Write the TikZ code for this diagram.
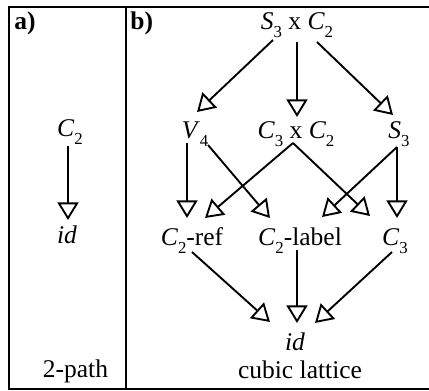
\documentclass[tikz,border=0pt]{standalone}
\usepackage{fontspec}
\setmainfont{Liberation Serif}
\usetikzlibrary{arrows.meta,calc}
\newcommand{\mysub}[1]{\raisebox{-0.33em}{\fontsize{8.4pt}{9pt}\selectfont #1}}
\tikzset{
  lbl/.style={inner sep=0pt, anchor=base, font=\fontsize{12.75pt}{15pt}\selectfont},
  arr/.style={line width=0.95pt, -{Triangle[open, width=10.5pt, length=8.8pt]}},
  frame/.style={line width=0.9pt}
}
\begin{document}
\begin{tikzpicture}[x=0.5pt, y=-0.5pt]
\useasboundingbox (0,0) rectangle (429,391);
% frame
\draw[frame] (429,7) -- (9,7) -- (9,389) -- (429,389);
\draw[frame] (126,7) -- (126,389);
% panel labels
\node[lbl, anchor=base west, font=\fontsize{12.75pt}{15pt}\selectfont\bfseries] (pa) at (14,30) {a)};
\node[lbl, anchor=base west, font=\fontsize{12.75pt}{15pt}\selectfont\bfseries] (pb) at (130,30) {b)};
% panel a
\node[lbl] (aC) at (70,136) {\textit{C}\mysub{2}};
\node[lbl] (aid) at (67,243) {\textit{id}};
\node[lbl] (apath) at (75.5,377) {2-path};
\draw[arr] ($(aC.base)+(-2,10)$) -- ($(aid.base)+(1,-23)$);
% panel b
\node[lbl] (top) at (297,29) {\textit{S}\mysub{3} x \textit{C}\mysub{2}};
\node[lbl] (V4) at (195,138) {\textit{V}\mysub{4}};
\node[lbl] (C3C2) at (296,138) {\textit{C}\mysub{3} x \textit{C}\mysub{2}};
\node[lbl] (S3) at (399,138) {\textit{S}\mysub{3}};
\node[lbl] (C2ref) at (192,245) {\textit{C}\mysub{2}-ref};
\node[lbl] (C2label) at (300,245) {\textit{C}\mysub{2}-label};
\node[lbl] (C3) at (395,245) {\textit{C}\mysub{3}};
\node[lbl] (id) at (295,350) {\textit{id}};
\node[lbl] (cubic) at (300,378) {cubic lattice};
\draw[arr] ($(top.base)+(-24,11)$) -- ($(V4.base)+(2,-26)$);
\draw[arr] ($(top.base)+(0,13)$) -- ($(C3C2.base)+(1,-21)$);
\draw[arr] ($(top.base)+(20,13)$) -- ($(S3.base)+(-6,-23)$);
\draw[arr] ($(V4.base)+(-8,5)$) -- ($(C2ref.base)+(-5,-27)$);
\draw[arr] ($(V4.base)+(13,7)$) -- ($(C2label.base)+(-30,-27)$);
\draw[arr] ($(C3C2.base)+(-3,5)$) -- ($(C2ref.base)+(13,-27)$);
\draw[arr] ($(C3C2.base)+(-3,5)$) -- ($(C3.base)+(-25,-29)$);
\draw[arr] ($(S3.base)+(-2,9)$) -- ($(C2label.base)+(22,-28)$);
\draw[arr] ($(S3.base)+(-2,9)$) -- ($(C3.base)+(2,-27)$);
\draw[arr] ($(C2ref.base)+(0,7)$) -- ($(id.base)+(-25,-28)$);
\draw[arr] ($(C2label.base)+(-3,5)$) -- ($(id.base)+(2,-27)$);
\draw[arr] ($(C3.base)+(-3,7)$) -- ($(id.base)+(20,-27)$);
\end{tikzpicture}
\end{document}
